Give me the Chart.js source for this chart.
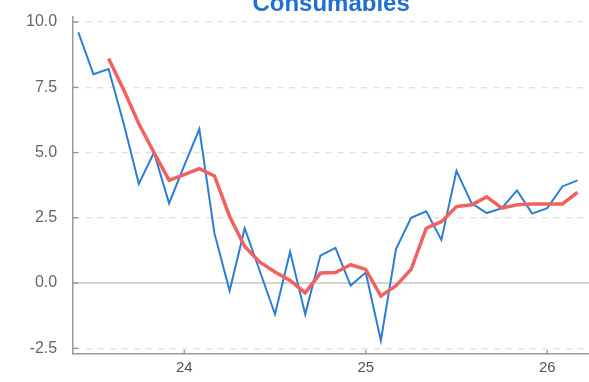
<!DOCTYPE html>
<html>
<head>
<meta charset="utf-8">
<script src="https://cdn.jsdelivr.net/npm/chart.js@4"></script>
<style>
html,body{margin:0;padding:0;background:#fff;}
#wrap{width:589px;height:382px;position:relative;}
</style>
</head>
<body>
<div id="wrap"><canvas id="c" width="589" height="382"></canvas></div>
<script>
// Months (year-month), Jun 2023 .. Mar 2026
const months = ['2023-06','2023-07','2023-08','2023-09','2023-10','2023-11','2023-12',
  '2024-01','2024-02','2024-03','2024-04','2024-05','2024-06','2024-07','2024-08','2024-09','2024-10','2024-11','2024-12',
  '2025-01','2025-02','2025-03','2025-04','2025-05','2025-06','2025-07','2025-08','2025-09','2025-10','2025-11','2025-12',
  '2026-01','2026-02','2026-03'];
const consumables = [9.6,8.0,8.2,6.1,3.8,5.0,3.05,4.5,5.9,1.9,-0.3,2.1,0.45,-1.2,1.2,-1.2,1.05,1.35,-0.1,0.4,-2.2,1.3,2.5,2.75,1.65,4.3,3.05,2.68,2.87,3.55,2.66,2.87,3.7,3.93];
const trend = [null,null,8.6,7.4,6.1,5.0,3.93,4.15,4.38,4.1,2.55,1.4,0.8,0.42,0.1,-0.38,0.38,0.4,0.7,0.52,-0.5,-0.1,0.52,2.1,2.35,2.93,3.0,3.3,2.87,3.0,3.03,3.03,3.03,3.47];
const yTicks = [-2.5,0,2.5,5,7.5,10];
const xTicks = [24,25,26];
const titleText = 'Consumables';

// convert "YYYY-MM" to fractional two-digit year
const toX = m => { const [y, mo] = m.split('-').map(Number); return (y - 2000) + (mo - 1) / 12; };
const pts = arr => arr.map((v, i) => ({x: toX(months[i]), y: v}));

const extras = {
  id: 'extras',
  beforeDatasetsDraw(chart) {
    const {ctx, chartArea: a, scales: {x, y}} = chart;
    ctx.save();
    const y0 = y.getPixelForValue(0);
    ctx.strokeStyle = '#c4c4c4'; ctx.lineWidth = 1.5;
    ctx.beginPath(); ctx.moveTo(a.left, y0); ctx.lineTo(a.right, y0); ctx.stroke();
    ctx.strokeStyle = '#8a8a8a'; ctx.lineWidth = 1.2;
    yTicks.forEach(v => { const p = y.getPixelForValue(v); ctx.beginPath(); ctx.moveTo(a.left, p); ctx.lineTo(a.left + 5, p); ctx.stroke(); });
    xTicks.forEach(v => { const p = x.getPixelForValue(v); ctx.beginPath(); ctx.moveTo(p, a.bottom); ctx.lineTo(p, a.bottom - 4); ctx.stroke(); });
    ctx.restore();
  }
};

new Chart(document.getElementById('c'), {
  type: 'line',
  data: {
    datasets: [
      {label: 'Trend', data: pts(trend), borderColor: '#f0625d', borderWidth: 3.5, pointRadius: 0, tension: 0, order: 0},
      {label: 'Consumables', data: pts(consumables), borderColor: '#2d7dd6', borderWidth: 2, pointRadius: 0, tension: 0, order: 1}
    ]
  },
  options: {
    responsive: false,
    animation: false,
    layout: {padding: {left: 21, right: 0, top: 2, bottom: 0}},
    plugins: {
      legend: {display: false},
      tooltip: {enabled: false},
      title: {
        display: true, text: titleText, fullSize: false,
        color: '#2070d4',
        font: {family: 'Liberation Sans, Arial, sans-serif', size: 24, weight: 'bold'},
        padding: {top: -12, bottom: -2}
      }
    },
    scales: {
      x: {
        type: 'linear', min: 23.388, max: 26.23,
        grid: {display: false, drawTicks: false},
        border: {display: true, color: '#999', width: 1.5},
        ticks: {
          stepSize: 1, includeBounds: false, padding: 5,
          color: '#555', font: {family: 'Liberation Sans, Arial, sans-serif', size: 15},
          callback: v => xTicks.includes(v) ? String(v) : ''
        }
      },
      y: {
        min: -2.72, max: 10.2,
        grid: {color: ctx => (ctx.tick && ctx.tick.value === 0) ? 'rgba(0,0,0,0)' : '#dedede', lineWidth: 1.3, drawTicks: true, tickLength: 11, tickColor: 'rgba(0,0,0,0)'},
        border: {display: true, color: '#999', width: 1.5, dash: [6, 6]},
        ticks: {
          stepSize: 2.5, includeBounds: false, padding: 5,
          color: '#666', font: {family: 'Liberation Sans, Arial, sans-serif', size: 16},
          callback: v => yTicks.includes(v) ? v.toFixed(1) : ''
        }
      }
    }
  },
  plugins: [extras]
});
</script>
</body>
</html>
